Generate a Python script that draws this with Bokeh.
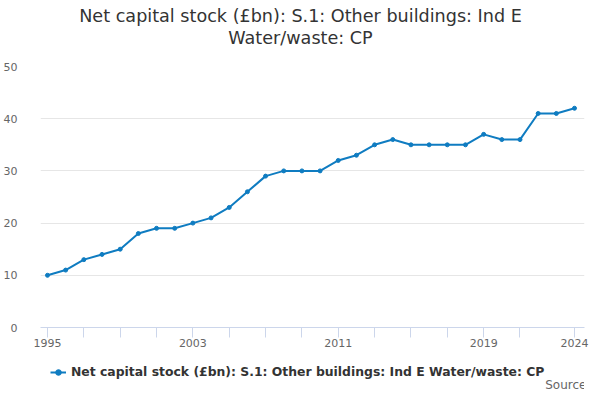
from bokeh.plotting import figure
from bokeh.models import FixedTicker, Legend, LegendItem, Range1d, Label
from bokeh.layouts import column
from bokeh.embed import file_html
from bokeh.resources import INLINE

years = list(range(1995, 2025))
values = [10, 11, 13, 14, 15, 18, 19, 19, 20, 21, 23, 26, 29, 30, 30, 30,
          32, 33, 35, 36, 35, 35, 35, 35, 37, 36, 36, 41, 41, 42]
x_ticks = [1995, 1997, 1999, 2001, 2003, 2005, 2007, 2009, 2011, 2013, 2015,
           2017, 2019, 2021, 2024]
x_labels = {1995: "1995", 2003: "2003", 2011: "2011", 2019: "2019", 2024: "2024"}
y_ticks = [0, 10, 20, 30, 40, 50]
title_line1 = "Net capital stock (£bn): S.1: Other buildings: Ind E"
title_line2 = "Water/waste: CP"
series_name = "Net capital stock (£bn): S.1: Other buildings: Ind E Water/waste: CP"
source_text = "Source:"

FONT = "DejaVu Sans"
COLOR = "#0f7cc1"


def blank(fig):
    fig.title.text = ""
    fig.title.visible = False
    fig.outline_line_color = None
    fig.background_fill_color = "white"
    fig.border_fill_color = "white"
    fig.grid.visible = False


# --- title block ---
p0 = figure(frame_width=544, frame_height=56, output_backend="svg",
            toolbar_location=None, x_axis_location=None, y_axis_location=None,
            min_border=0)
blank(p0)
for txt, yy in ((title_line1, 41), (title_line2, 19)):
    p0.add_layout(Label(x=260, y=yy, x_units="screen", y_units="screen",
                        text=txt, text_align="center",
                        text_baseline="alphabetic", text_font=FONT,
                        text_font_size="17.6px", text_color="#333333"))

# --- chart ---
p = figure(frame_width=544, frame_height=261, output_backend="svg",
           toolbar_location=None,
           x_range=Range1d(1994.615, 2024.55), y_range=Range1d(0, 50),
           min_border=0, min_border_right=8)
p.title.text = " "
p.title.text_font_size = "2px"
p.title.standoff = 6
p.outline_line_color = None
p.background_fill_color = "white"
p.border_fill_color = "white"

r = p.line(years, values, line_color=COLOR, line_width=2)
s = p.scatter(years, values, size=4, fill_color=COLOR, line_color=COLOR)

p.xgrid.grid_line_color = None
p.ygrid.grid_line_color = "#e6e6e6"
p.ygrid.ticker = FixedTicker(ticks=y_ticks)

p.yaxis.ticker = FixedTicker(ticks=y_ticks)
p.yaxis.axis_line_color = None
p.yaxis.major_tick_line_color = None
p.yaxis.major_tick_out = 0
p.yaxis.major_tick_in = 0
p.yaxis.minor_tick_line_color = None
p.yaxis.major_label_text_font = FONT
p.yaxis.major_label_text_font_size = "11px"
p.yaxis.major_label_text_color = "#666666"
p.yaxis.major_label_standoff = 23

p.xaxis.ticker = FixedTicker(ticks=x_ticks)
p.xaxis.major_label_overrides = {t: x_labels.get(t, "") for t in x_ticks}
p.xaxis.axis_line_color = "#ccd6eb"
p.xaxis.major_tick_line_color = "#ccd6eb"
p.xaxis.major_tick_in = 0
p.xaxis.major_tick_out = 10
p.xaxis.minor_tick_line_color = None
p.xaxis.major_label_text_font = FONT
p.xaxis.major_label_text_font_size = "11px"
p.xaxis.major_label_text_color = "#666666"
p.xaxis.major_label_standoff = 1

# --- legend / source block ---
p2 = figure(frame_width=584, frame_height=40, output_backend="svg",
            toolbar_location=None, x_axis_location=None, y_axis_location=None,
            x_range=Range1d(0, 1), y_range=Range1d(0, 1), min_border=0)
blank(p2)
r2 = p2.line(years, values, line_color=COLOR, line_width=2)
s2 = p2.scatter(years, values, size=4, fill_color=COLOR, line_color=COLOR)
legend = Legend(items=[LegendItem(label=series_name, renderers=[r2, s2])],
                location=(50, 10), orientation="horizontal",
                border_line_color=None, background_fill_alpha=0,
                label_text_font=FONT, label_text_font_size="12.4px",
                label_text_font_style="bold", label_text_color="#333333",
                glyph_width=16, glyph_height=14, label_height=14,
                margin=0, padding=4)
p2.add_layout(legend, "center")
p2.add_layout(Label(x=550, y=5, x_units="screen", y_units="screen",
                    text=source_text, text_align="right",
                    text_baseline="alphabetic", text_font=FONT,
                    text_font_size="12px", text_color="#666666"))

layout = column(p0, p, p2, spacing=0)
open("out.html", "w").write(file_html(layout, INLINE))
